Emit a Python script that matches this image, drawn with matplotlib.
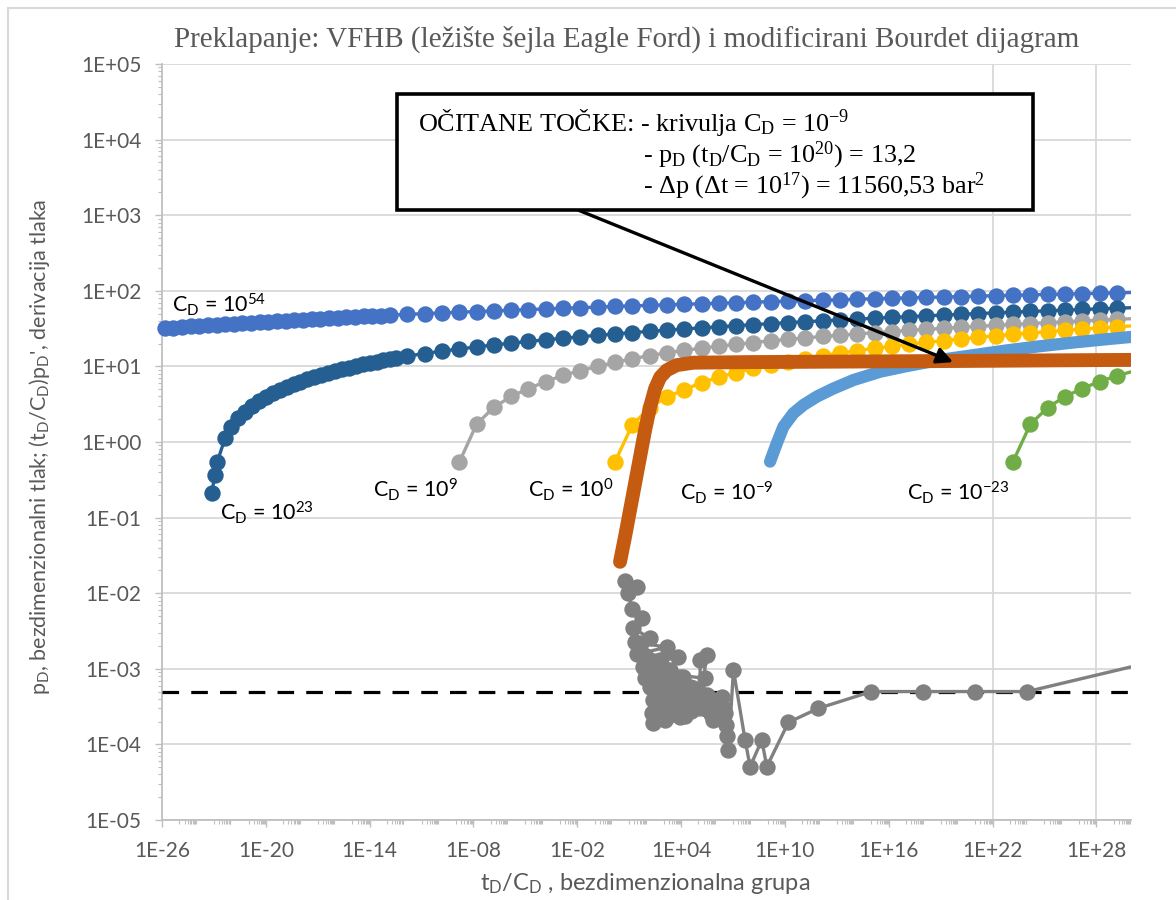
import matplotlib
matplotlib.use("Agg")
import matplotlib.pyplot as plt
import matplotlib.patches as patches
from matplotlib.ticker import FixedLocator, NullFormatter

plt.rcParams['font.family'] = ['Lato', 'DejaVu Sans']
plt.rcParams['mathtext.default'] = 'regular'

# --- data (x as log10 of tD/CD, y as value) ---
blue_dense_x = [-25.85, -25.35, -24.85, -24.35, -23.85, -23.35, -22.85, -22.35, -21.85,
                -21.35, -20.85, -20.35, -19.85, -19.35, -18.85, -18.35, -17.85, -17.35,
                -16.85, -16.35, -15.85, -15.35, -14.85, -14.35, -13.85, -13.35, -12.85]
blue_dense_y = [32.0, 32.6, 33.2, 33.8, 34.4, 35.0, 35.6, 36.2, 36.8, 37.4, 38.0, 38.6,
                39.2, 39.8, 40.4, 41.0, 41.6, 42.2, 42.8, 43.4, 44.0, 44.6, 45.2, 45.8,
                46.4, 47.0, 47.6]

decade_x = [-11.82, -10.82, -9.82, -8.82, -7.82, -6.82, -5.82, -4.82, -3.82, -2.82,
            -1.82, -0.82, 0.18, 1.18, 2.18, 3.18, 4.18, 5.18, 6.18, 7.18, 8.18, 9.18,
            10.18, 11.18, 12.18, 13.18, 14.18, 15.18, 16.18, 17.18, 18.18, 19.18, 20.18,
            21.18, 22.18, 23.18, 24.18, 25.18, 26.18, 27.18, 28.18, 29.18, 30.18]

blue_y = [48.8, 49.9, 51.0, 52.1, 53.2, 54.3, 55.4, 56.5, 57.6, 58.7, 59.8, 60.9, 62.0,
          63.1, 64.2, 65.3, 66.4, 67.5, 68.6, 69.7, 70.8, 71.9, 73.0, 74.1, 75.2, 76.3,
          77.4, 78.5, 79.6, 80.7, 81.8, 82.9, 84.0, 85.1, 86.2, 87.3, 88.4, 89.5, 90.6,
          91.7, 92.8, 93.9, 95.0]

dblue_start_x = [-23.13, -22.94, -22.80, -22.36, -22.0, -21.6, -21.2, -20.8, -20.4, -20.0,
                 -19.6, -19.2, -18.8, -18.4, -18.0, -17.6, -17.2, -16.8, -16.4, -16.0,
                 -15.6, -15.2, -14.8, -14.4, -14.0, -13.6, -13.2, -12.8, -12.5]
dblue_start_y = [0.21, 0.37, 0.55, 1.12, 1.58, 2.05, 2.5, 3.0, 3.5, 3.95, 4.45, 4.9, 5.4,
                 5.85, 6.3, 6.8, 7.25, 7.7, 8.2, 8.65, 9.1, 9.6, 10.1, 10.6, 11.05, 11.5,
                 12.0, 12.5, 12.85]
dblue_y = [13.7, 14.8, 15.9, 17.0, 18.1, 19.2, 20.3, 21.4, 22.5, 23.6, 24.7, 25.8, 26.9,
           28.0, 29.1, 30.2, 31.3, 32.4, 33.5, 34.6, 35.7, 36.8, 37.9, 39.0, 40.1, 41.2,
           42.3, 43.4, 44.5, 45.6, 46.7, 47.8, 48.9, 50.0, 51.1, 52.2, 53.3, 54.4, 55.5,
           56.6, 57.7, 58.8, 59.9]

gray_y = [0.54, 1.72, 2.88, 4.0, 5.1, 6.3, 7.6, 8.8, 10.0, 11.3, 12.6, 13.9, 15.1, 16.3,
          17.4, 18.5, 19.6, 20.7, 21.8, 22.8, 23.8, 24.9, 25.9, 26.9, 27.9, 28.9, 29.9,
          30.9, 31.9, 32.9, 33.9, 34.9, 35.9, 36.9, 37.9, 38.9, 39.9, 40.9, 41.9, 42.9]

yellow_y = [0.55, 1.68, 2.85, 3.95, 4.9, 6.1, 7.2, 8.3, 9.4, 10.4, 11.6, 12.7, 13.9, 15.0,
            16.2, 17.3, 18.5, 19.6, 20.8, 21.9, 23.1, 24.2, 25.4, 26.5, 27.7, 28.8, 30.0,
            31.1, 32.3, 33.4, 34.5]

green_y = [0.55, 1.71, 2.85, 3.98, 5.1, 6.3, 7.5, 8.7]

lblue_x = [9.14, 9.53, 9.91, 10.49, 11.07, 11.84, 12.8, 13.96, 15.5, 17.05, 18.97, 20.9,
           22.83, 24.75, 26.68, 28.6, 30.15]
lblue_y = [0.55, 0.96, 1.59, 2.4, 3.09, 3.98, 5.1, 6.6, 8.5, 10.1, 12.2, 14.1, 16.3, 18.5,
           20.7, 22.9, 24.7]

orange_x = [0.47, 0.76, 1.05, 1.34, 1.63, 1.92, 2.21, 2.50, 2.79, 3.17, 3.75, 4.71, 8.0,
            14.0, 20.0, 25.0, 30.2]
orange_y = [0.026, 0.056, 0.126, 0.284, 0.64, 1.44, 2.93, 5.1, 7.2, 8.9, 10.4, 11.2, 11.4,
            11.6, 11.8, 12.0, 12.2]

deriv_x = [0.763, 1.437, 0.956, 1.148, 1.726, 1.245, 2.208, 1.341, 3.172, 1.437, 3.846,
           1.823, 2.786, 2.208, 3.942, 2.401, 3.364, 2.305, 3.172, 3.750, 4.135, 5.098,
           3.075, 2.401, 3.942, 4.328, 5.869, 4.520, 6.062, 5.098, 5.098, 5.484, 5.098,
           5.387, 2.5, 3.3, 2.6, 3.6, 2.8, 4.0, 3.0, 4.4, 3.4, 4.8, 3.8, 5.3, 4.2, 5.7,
           4.6, 6.0, 2.0, 2.9, 1.7, 2.6, 1.9, 3.5, 2.3, 4.1, 2.7, 4.7, 3.2, 5.5, 3.6, 6.2,
           6.351, 6.447, 6.543, 6.6, 6.65, 6.736, 7.025, 7.699, 7.988, 8.663,
           8.952, 10.204, 11.938, 15.0, 18.0, 21.0, 24.0, 30.3]
deriv_y = [0.0147, 0.0119, 0.00995, 0.0061, 0.00465, 0.00343, 0.00253, 0.00228, 0.00192,
           0.00157, 0.00145, 0.00107, 0.00131, 0.00058, 0.00079, 0.000386, 0.00096,
           0.000257, 0.000233, 0.000386, 0.00079, 0.000473, 0.00021, 0.00019, 0.000233,
           0.000316, 0.00021, 0.00058, 0.000386, 0.000386, 0.00131, 0.00152, 0.000349,
           0.000748, 0.0009, 0.0006, 0.0004, 0.0005, 0.0003, 0.0004, 0.00028, 0.00045,
           0.0003, 0.00038, 0.00026, 0.00033, 0.00024, 0.00025, 0.00028, 0.00024,
           0.0014, 0.0011, 0.0022, 0.0008, 0.00075, 0.0007, 0.00055, 0.00065, 0.00048,
           0.00055, 0.00042, 0.00045, 0.00035, 0.00035,
           0.000428, 0.000316, 0.000258, 0.00018, 0.00013, 0.0000843, 0.00096, 0.000114,
           0.0000507, 0.000114, 0.0000507, 0.000196, 0.0003, 0.0005, 0.0005, 0.0005,
           0.0005, 0.0011]

dash_x = [-26, 30]
dash_y = [0.0005, 0.0005]

labels = [r'C$_D$ = 10$^{54}$', r'C$_D$ = 10$^{23}$', r'C$_D$ = 10$^{9}$',
          r'C$_D$ = 10$^{0}$', r'C$_D$ = 10$^{-9}$', r'C$_D$ = 10$^{-23}$']
label_x = [-25.42, -22.65, -13.8, -4.84, 3.94, 17.06]
label_y = [64.9, 0.115, 0.232, 0.232, 0.211, 0.211]

XMIN, XMAX = 1e-26, 1e30
W, H = 1176, 900


def fx(px):
    return px / W


def fy(py):
    return 1 - py / H


def serija(ax, lx, y, color, z, ms=11.8, lw=2.4):
    x = [10 ** v for v in lx]
    ax.plot(x, y, color=color, lw=lw, zorder=z, solid_joinstyle='round')
    xin = [a for a in x if a <= XMAX * 1.01]
    yin = y[:len(xin)]
    ax.plot(xin, yin, 'o', color=color, ms=ms, mew=0, zorder=z, clip_on=False)


fig = plt.figure(figsize=(11.76, 9.0), dpi=100)
ax = fig.add_axes([fx(162), fy(820), (1131 - 162) / W, (820 - 64) / H])

serija(ax, blue_dense_x + decade_x, blue_dense_y + blue_y, '#4472C4', 3.0)
serija(ax, dblue_start_x + decade_x, dblue_start_y + dblue_y, '#255E91', 3.1)
serija(ax, decade_x[3:], gray_y, '#A5A5A5', 3.2)
serija(ax, decade_x[12:], yellow_y, '#FFC000', 3.3)
ax.plot([10 ** v for v in lblue_x], lblue_y, color='#5B9BD5', lw=8.8, zorder=3.4,
        solid_capstyle='round', solid_joinstyle='round')
serija(ax, decade_x[35:], green_y, '#70AD47', 3.5)
ax.plot([10 ** v for v in orange_x], orange_y, color='#C55A11', lw=10, zorder=3.6,
        solid_capstyle='round', solid_joinstyle='round')
ax.plot([10 ** v for v in dash_x], dash_y, color='black', lw=2.3, dashes=(5.2, 3.8),
        zorder=2.9)
serija(ax, deriv_x, deriv_y, '#808080', 3.7)

for s, lx, ly in zip(labels, label_x, label_y):
    ax.text(10 ** lx, ly, s, ha='left', va='center', fontsize=15.5, color='black', zorder=5)

# axes
ax.set_xscale('log')
ax.set_yscale('log')
ax.set_xlim(XMIN, XMAX)
ax.set_ylim(1e-5, 1e5)

xt = [10.0 ** k for k in range(-26, 29, 6)]
ax.xaxis.set_major_locator(FixedLocator(xt))
ax.set_xticklabels([f"1E{k:+03d}" for k in range(-26, 29, 6)])
xm = [j * 10.0 ** (n + 1) for n in range(-26, 30, 2) for j in range(1, 10)]
ax.xaxis.set_minor_locator(FixedLocator(xm))
ax.xaxis.set_minor_formatter(NullFormatter())

yt = [10.0 ** k for k in range(-5, 6)]
ax.yaxis.set_major_locator(FixedLocator(yt))
ax.set_yticklabels([f"1E{k:+03d}" for k in range(-5, 6)])
ym = [j * 10.0 ** d for d in range(-5, 5) for j in range(2, 10)]
ax.yaxis.set_minor_locator(FixedLocator(ym))
ax.yaxis.set_minor_formatter(NullFormatter())

ax.tick_params(which='major', direction='out', length=5, width=1, color='#BFBFBF',
               labelcolor='#595959', labelsize=15, pad=10)
ax.tick_params(which='minor', direction='out', length=3, width=0.8, color='#BFBFBF')

ax.yaxis.grid(True, which='major', color='#D9D9D9', lw=1.3, zorder=0)
for gx in [1e22, 1e28]:
    ax.axvline(gx, color='#D9D9D9', lw=1.3, zorder=0.5)
ax.set_axisbelow(True)
for sp in ['top', 'right']:
    ax.spines[sp].set_visible(False)
for sp in ['left', 'bottom']:
    ax.spines[sp].set_color('#BFBFBF')
    ax.spines[sp].set_linewidth(1.3)

# titles
fig.text(fx(627), fy(47), 'Preklapanje: VFHB (ležište šejla Eagle Ford) i modificirani Bourdet dijagram',
         ha='center', va='baseline', family=['Liberation Serif'], fontsize=21,
         color='#595959')
fig.text(fx(645), fy(883), r't$_D$/C$_D$ , bezdimenzionalna grupa', ha='center', va='center',
         fontsize=17, color='#595959')
fig.text(fx(40), fy(447), r"p$_D$, bezdimenzionalni tlak; (t$_D$/C$_D$)p$_D$', derivacija tlaka",
         ha='center', va='center', rotation=90, fontsize=15.5, color='#595959')

# callout box
box = patches.Rectangle((fx(397), fy(210)), (1033 - 397) / W, (210 - 94) / H,
                        transform=fig.transFigure, facecolor='white', edgecolor='black',
                        lw=2.6, zorder=10)
fig.patches.append(box)
serif = ['Liberation Serif', 'DejaVu Serif']
fig.text(fx(418), fy(131), r'OČITANE TOČKE: - krivulja C$_D$ = 10$^{-9}$', family=serif,
         fontsize=18.8, va='baseline', zorder=11)
fig.text(fx(643), fy(162), r'- p$_D$ (t$_D$/C$_D$ = 10$^{20}$) = 13,2', family=serif,
         fontsize=18.8, va='baseline', zorder=11)
fig.text(fx(643), fy(193), r'- Δp (Δt = 10$^{17}$) = 11560,53 bar$^2$', family=serif,
         fontsize=18.8, va='baseline', zorder=11)

ax.annotate('', xy=(10 ** 19.72, 11.4), xycoords='data',
            xytext=(fx(578), fy(210)), textcoords='figure fraction',
            arrowprops=dict(arrowstyle='-|>', color='black', lw=2.4, mutation_scale=24,
                            shrinkA=0, shrinkB=0), zorder=9)

# outer chart border
border = patches.Rectangle((fx(7.5), -0.05), 1.2, fy(8) + 0.05, transform=fig.transFigure,
                           fill=False, edgecolor='#D9D9D9', lw=1.5, zorder=0)
fig.patches.append(border)

fig.savefig('out.png', dpi=100)
